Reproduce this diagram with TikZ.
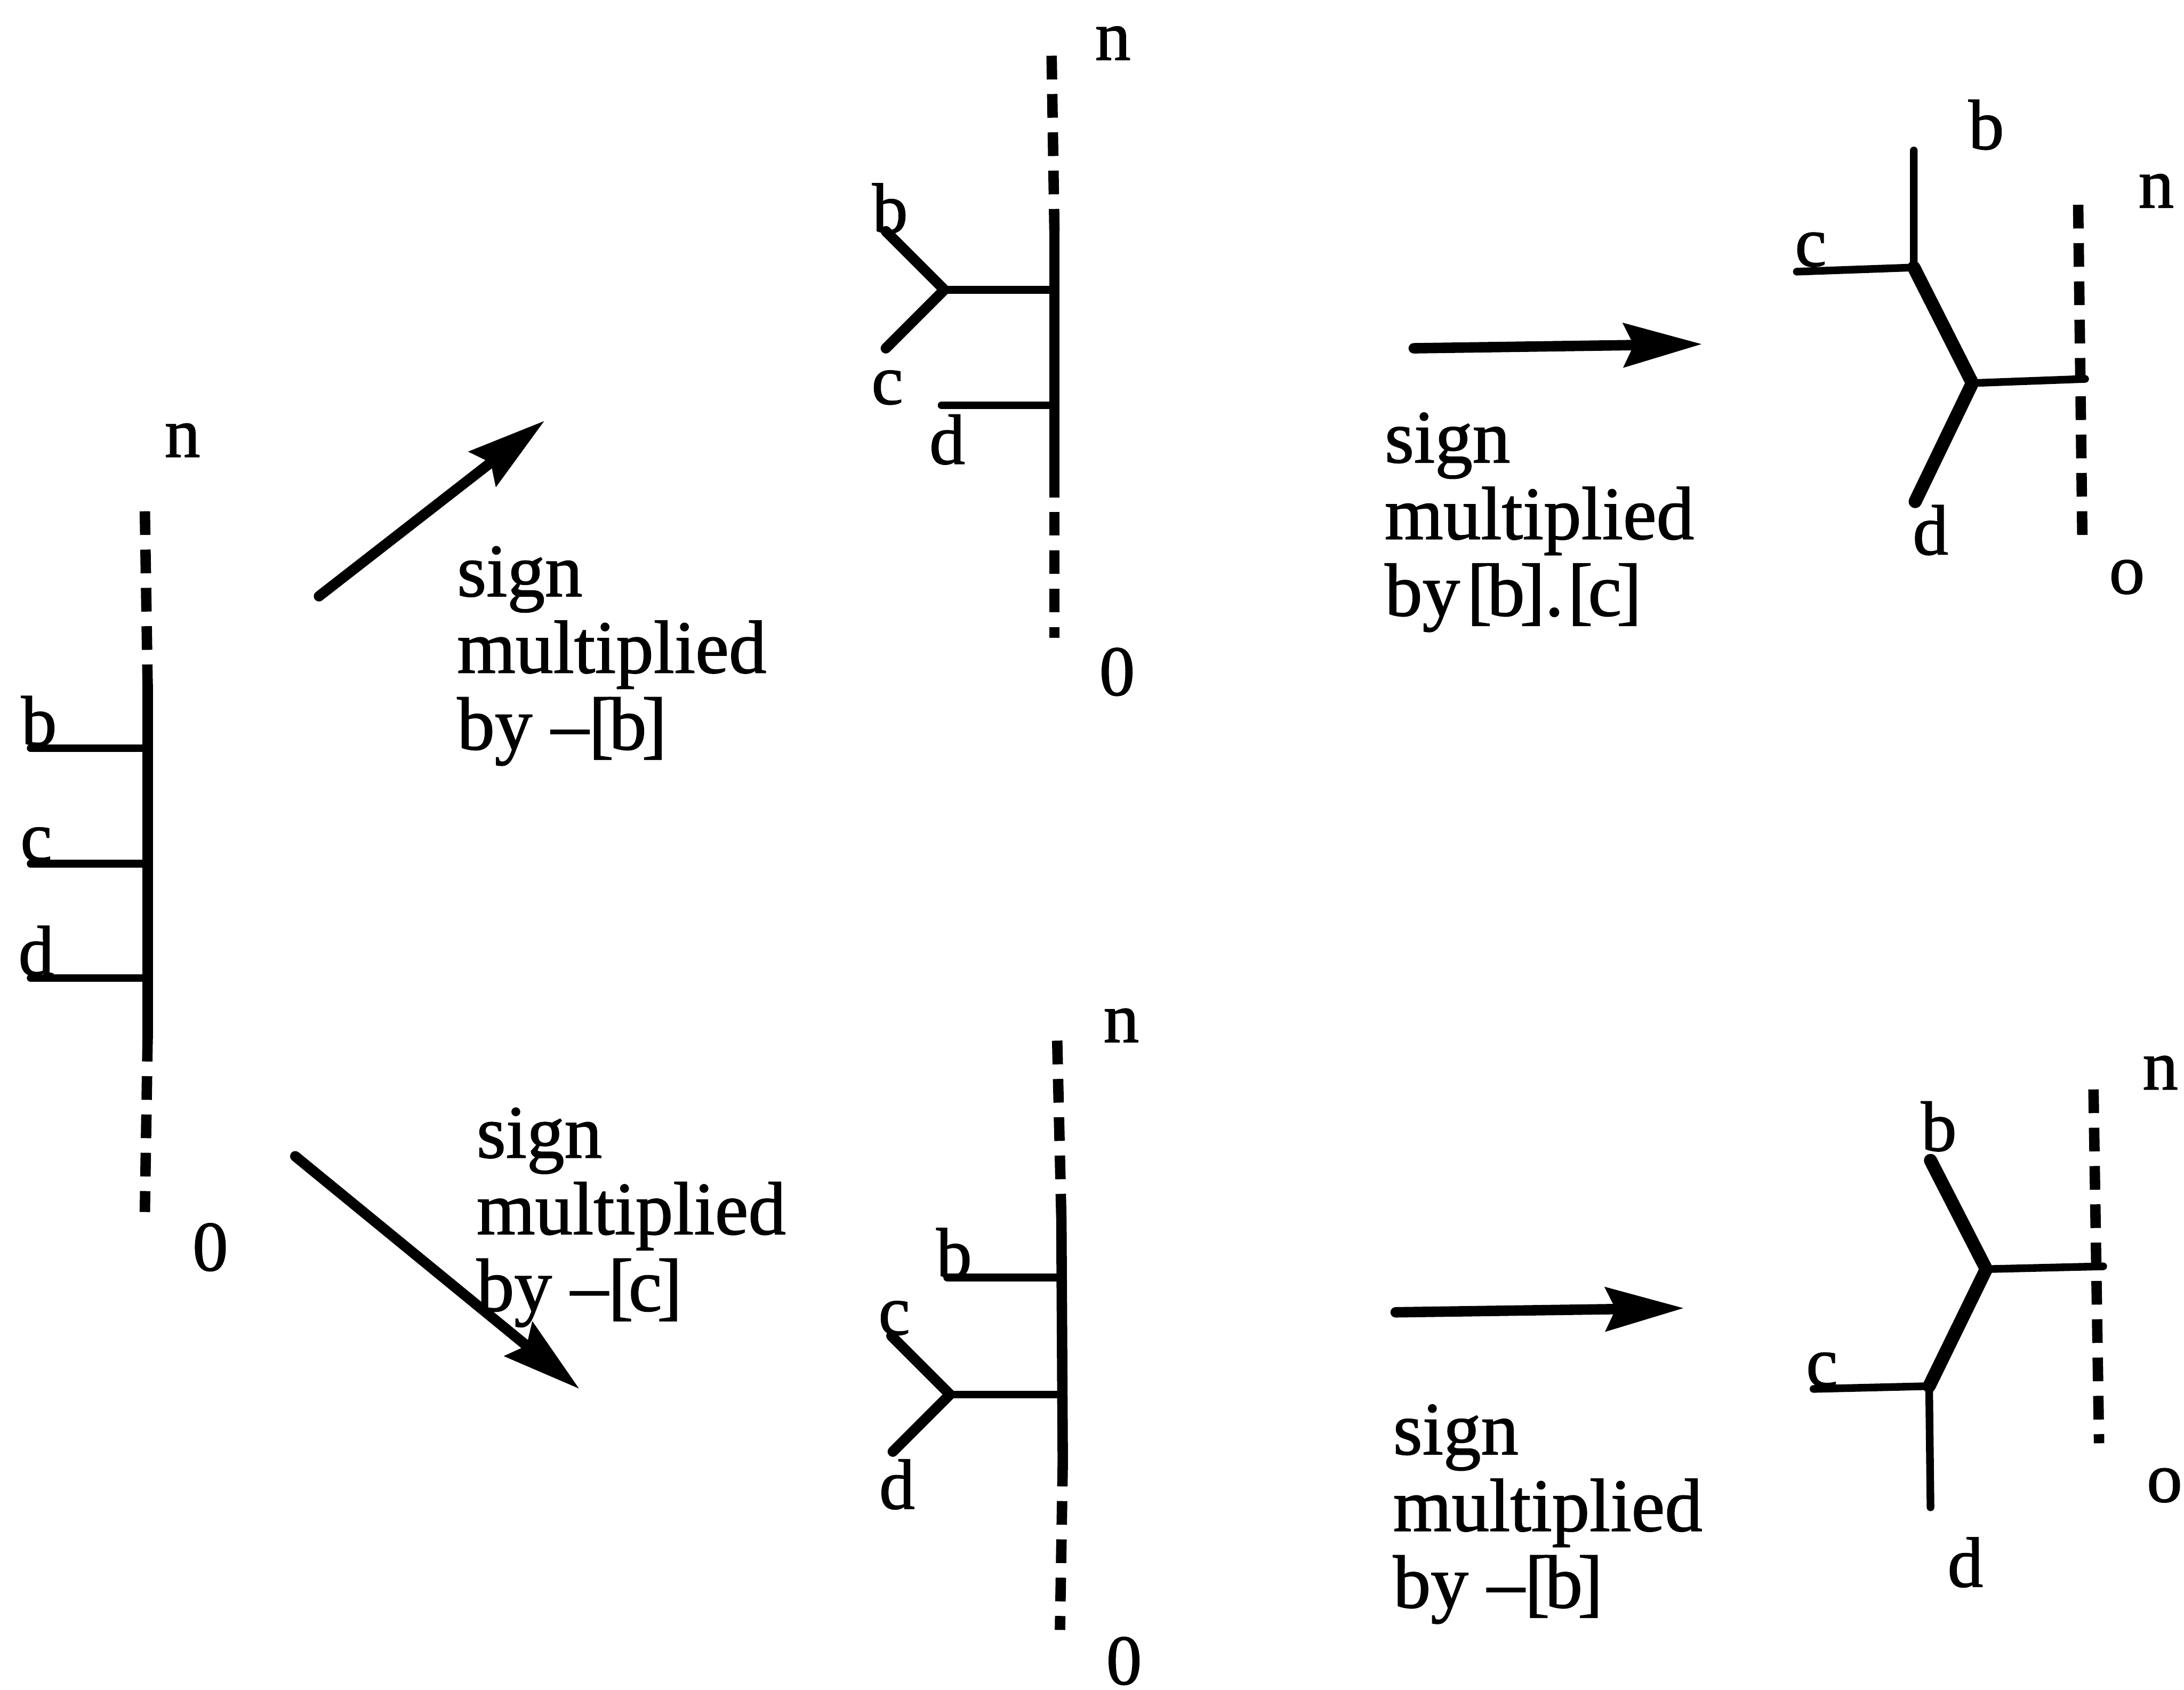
\documentclass[tikz,border=0pt]{standalone}
\usepackage{fontspec}
\setmainfont[FakeBold=1.2]{Liberation Serif}
\usetikzlibrary{arrows.meta}
\newcommand{\brk}[1]{[\kern-3.5pt #1\kern-3.5pt]}
\tikzset{
  lab/.style={inner sep=0pt,anchor=base,font=\fontsize{51}{51}\selectfont},
  txt/.style={inner sep=0pt,anchor=north west,align=left,font=\fontsize{54}{55}\selectfont},
  thickl/.style={line width=7.5pt,line cap=round},
  thinl/.style={line width=5.5pt,line cap=round},
  diag/.style={line width=9.5pt,line cap=round},
  dashl/.style={line width=7.5pt,dash pattern=on 17pt off 10.5pt},
  arr/.style={line width=7.5pt,line cap=round,-{Stealth[length=56pt,width=31pt,inset=7pt]}}
}
\begin{document}
\begin{tikzpicture}[x=1pt,y=-1pt]
\useasboundingbox (0,0) rectangle (1568,1213);
% tree 1
\coordinate (A0) at (104,367); \coordinate (A1) at (106,492); \coordinate (A2) at (106,745); \coordinate (A3) at (104,870);
\coordinate (Ab) at (22,537); \coordinate (Ab') at (106,537);
\coordinate (Ac) at (22,620); \coordinate (Ac') at (106,620);
\coordinate (Ad) at (22,702); \coordinate (Ad') at (106,702);
\draw[dashl] (A0) -- (A1);
\draw[thickl] (A1) -- (A2);
\draw[dashl] (A2) -- (A3);
\draw[thinl] (Ab) -- (Ab'); \draw[thinl] (Ac) -- (Ac'); \draw[thinl] (Ad) -- (Ad');
\node[lab] (An) at (131,328) {n};
\node[lab] (Abl) at (28,535) {b};
\node[lab] (Acl) at (26,618) {c};
\node[lab] (Adl) at (26,700) {d};
\node[lab] (A00) at (151,912) {0};
% arrows from tree 1
\coordinate (P1) at (229,428); \coordinate (P2) at (391,302);
\coordinate (Q1) at (212,830); \coordinate (Q2) at (416,997);
\draw[arr] (P1) -- (P2);
\draw[arr] (Q1) -- (Q2);
\node[txt] (T1) at (328,392) {sign\\multiplied\\by --\brk{b}};
\node[txt] (T2) at (342,795) {sign\\multiplied\\by --\brk{c}};
% tree 2
\coordinate (B0) at (755,40); \coordinate (B1) at (757,165); \coordinate (B2) at (757,340); \coordinate (B3) at (757,458);
\coordinate (Bj) at (678,208); \coordinate (Bj') at (757,208);
\coordinate (Bb) at (636,166); \coordinate (Bc) at (636,250);
\coordinate (Bd) at (676,291); \coordinate (Bd') at (757,291);
\draw[dashl] (B0) -- (B1);
\draw[thickl] (B1) -- (B2);
\draw[dashl] (B2) -- (B3);
\draw[thinl] (Bj) -- (Bj'); \draw[thinl] (Bd) -- (Bd');
\draw[thickl] (Bb) -- (Bj) -- (Bc);
\node[lab] (Bn) at (799,43) {n};
\node[lab] (Bbl) at (639,167) {b};
\node[lab] (Bcl) at (637,290) {c};
\node[lab] (Bdl) at (680,333) {d};
\node[lab] (B00) at (802,499) {0};
% tree 3
\coordinate (C0) at (759,747); \coordinate (C1) at (762,875); \coordinate (C2) at (763,1050); \coordinate (C3) at (761,1170);
\coordinate (Cb) at (680,917); \coordinate (Cb') at (763,917);
\coordinate (Cj) at (682,1001); \coordinate (Cj') at (763,1001);
\coordinate (Cc) at (640,959); \coordinate (Cd) at (641,1042);
\draw[dashl] (C0) -- (C1);
\draw[thickl] (C1) -- (C2);
\draw[dashl] (C2) -- (C3);
\draw[thinl] (Cb) -- (Cb'); \draw[thinl] (Cj) -- (Cj');
\draw[thickl] (Cc) -- (Cj) -- (Cd);
\node[lab] (Cn) at (805,748) {n};
\node[lab] (Cbl) at (685,917) {b};
\node[lab] (Ccl) at (642,958) {c};
\node[lab] (Cdl) at (644,1083) {d};
\node[lab] (C00) at (807,1209) {0};
% horizontal arrows
\coordinate (R1) at (1015,250); \coordinate (R2) at (1222,247);
\coordinate (S1) at (1002,942); \coordinate (S2) at (1209,939);
\draw[arr] (R1) -- (R2);
\draw[arr] (S1) -- (S2);
\node[txt] (T3) at (994,296) {sign\\multiplied\\by{\kern5pt}\brk{b}.{\kern3pt}\brk{c}};
\node[txt] (T4) at (1000,1008) {sign\\multiplied\\by --\brk{b}};
% tree 4
\coordinate (D0) at (1492,147); \coordinate (D1) at (1495,385);
\coordinate (Dj) at (1416,275); \coordinate (Dr) at (1497,272);
\coordinate (Dk) at (1374,192); \coordinate (Db) at (1374,108); \coordinate (Dc) at (1290,195);
\coordinate (Dd) at (1375,360);
\draw[dashl] (D0) -- (D1);
\draw[thinl] (Dj) -- (Dr);
\draw[thinl] (Dc) -- (Dk) -- (Db);
\draw[diag] (Dk) -- (Dj) -- (Dd);
\node[lab] (Dbl) at (1426,107) {b};
\node[lab] (Dcl) at (1300,191) {c};
\node[lab] (Ddl) at (1386,398) {d};
\node[lab] (Dnl) at (1548,149) {n};
\node[lab] (Dol) at (1527,426) {o};
% tree 5
\coordinate (E0) at (1503,782); \coordinate (E1) at (1507,1036);
\coordinate (Ej) at (1426,911); \coordinate (Er) at (1510,909);
\coordinate (Ek) at (1385,995); \coordinate (Eb) at (1386,833); \coordinate (Ec) at (1302,997);
\coordinate (Ed) at (1386,1082);
\draw[dashl] (E0) -- (E1);
\draw[thinl] (Ej) -- (Er);
\draw[thinl] (Ec) -- (Ek) -- (Ed);
\draw[diag] (Eb) -- (Ej) -- (Ek);
\node[lab] (Ebl) at (1392,826) {b};
\node[lab] (Ecl) at (1308,995) {c};
\node[lab] (Edl) at (1411,1139) {d};
\node[lab] (Enl) at (1551,782) {n};
\node[lab] (Eol) at (1554,1078) {o};
\end{tikzpicture}
\end{document}
